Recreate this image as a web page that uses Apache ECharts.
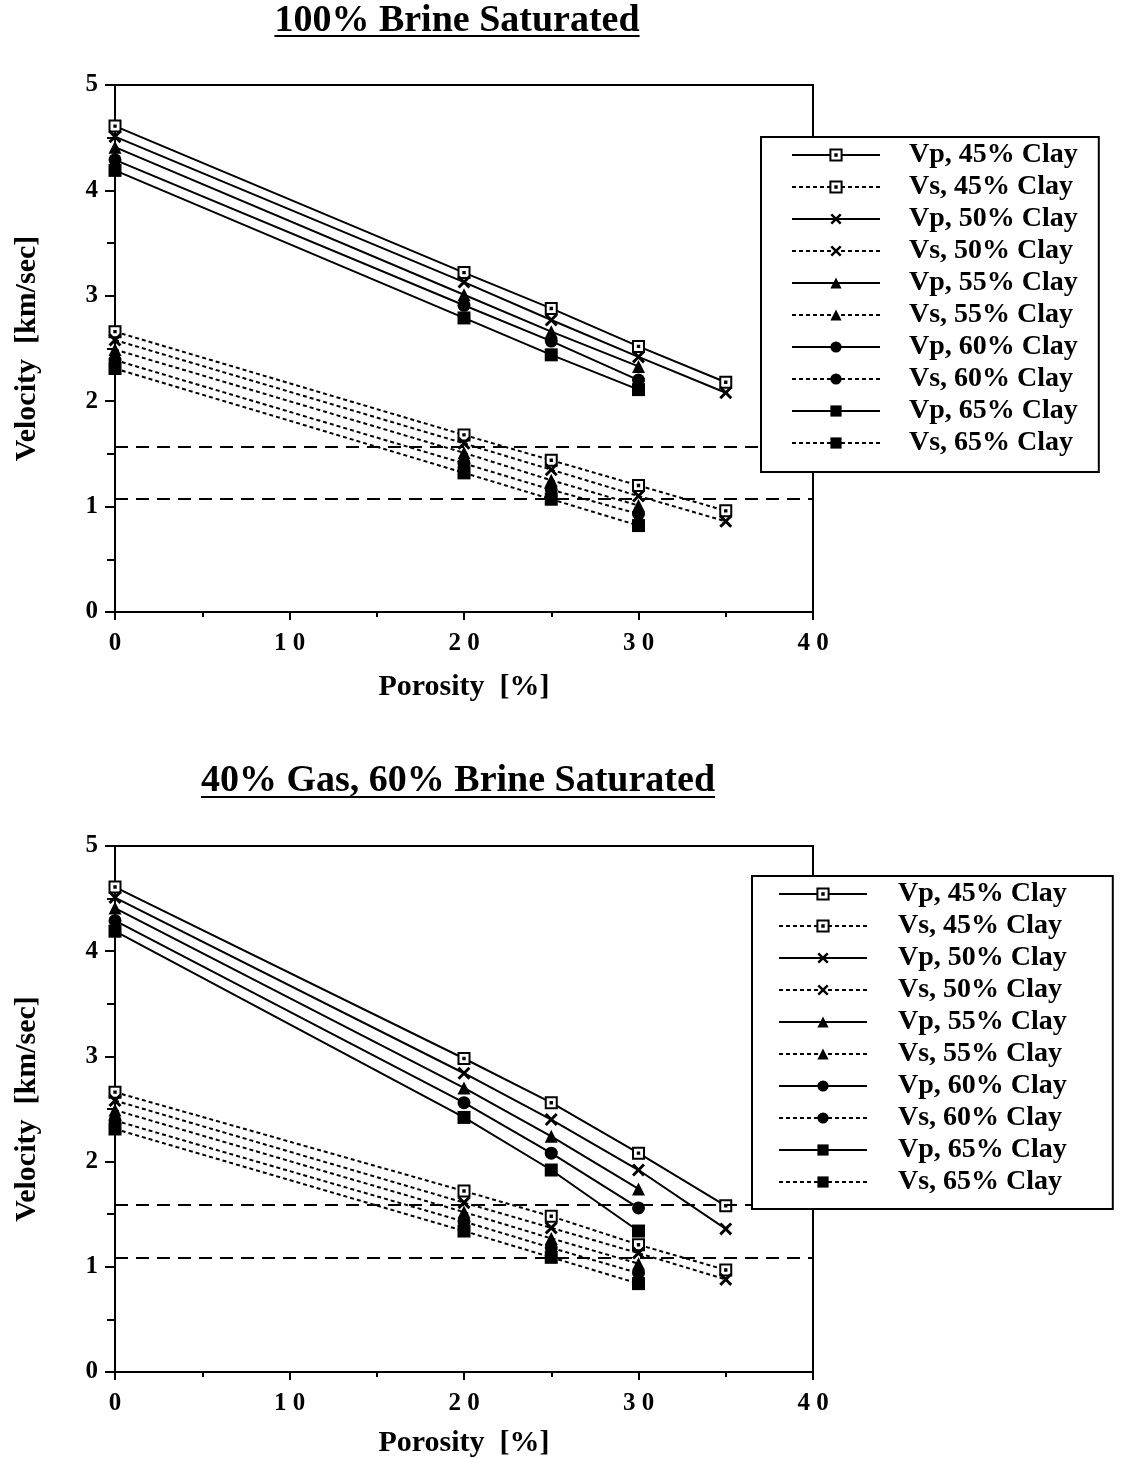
<!DOCTYPE html>
<html>
<head>
<meta charset="utf-8">
<script src="https://cdn.jsdelivr.net/npm/echarts@6/dist/echarts.min.js"></script>
<style>
html, body { margin: 0; background: #fff; }
#main { width: 1134px; height: 1458px; }
</style>
</head>
<body>
<div id="main"></div>
<script>
// porosity [%] of the five samples, clay contents
var porosity = [0, 20, 25, 30, 35];
var clays = ['45%', '50%', '55%', '60%', '65%'];

// 100% brine saturated, velocities in km/sec (one row per clay content)
var brineVp = [
    [4.61, 3.22, 2.88, 2.52, 2.18],
    [4.51, 3.13, 2.77, 2.42, 2.08],
    [4.41, 3.01, 2.66, 2.33],
    [4.29, 2.91, 2.57, 2.20],
    [4.19, 2.79, 2.44, 2.11]
];
var brineVs = [
    [2.66, 1.68, 1.44, 1.20, 0.96],
    [2.58, 1.60, 1.35, 1.10, 0.86],
    [2.49, 1.51, 1.25, 1.01],
    [2.39, 1.41, 1.16, 0.93],
    [2.31, 1.32, 1.07, 0.82]
];
var brineCutoffs = [1.57, 1.07];

// 40% gas, 60% brine saturated
var gasVp = [
    [4.61, 2.98, 2.56, 2.08, 1.58],
    [4.51, 2.84, 2.40, 1.92, 1.36],
    [4.41, 2.70, 2.24, 1.74],
    [4.29, 2.56, 2.08, 1.56],
    [4.19, 2.42, 1.92, 1.34]
];
var gasVs = [
    [2.66, 1.72, 1.48, 1.21, 0.97],
    [2.58, 1.61, 1.37, 1.13, 0.88],
    [2.49, 1.52, 1.27, 1.03],
    [2.39, 1.43, 1.18, 0.94],
    [2.31, 1.34, 1.09, 0.84]
];
var gasCutoffs = [1.59, 1.09];

var FONT = "'Liberation Serif', 'Times New Roman', serif";

// markers: dotted open square, x, triangle, circle, square
var symbols = [
    'path://M0,0H12V12H0Z M5.25,5.25H6.75V6.75H5.25Z',
    'path://M0,1.9L1.9,0L6,4.1L10.1,0L12,1.9L7.9,6L12,10.1L10.1,12L6,7.9L1.9,12L0,10.1L4.1,6Z',
    'triangle',
    'circle',
    'rect'
];
var symbolSizes = [11, 13, 13, 13, 13];

function pts(vals) {
    return vals.map(function (v, k) { return [porosity[k], v]; });
}

function oneLine(name, vals, dash, i, g) {
    var open = i === 0;
    return {
        type: 'line',
        name: name,
        xAxisIndex: g,
        yAxisIndex: g,
        data: pts(vals),
        symbol: symbols[i],
        symbolSize: symbolSizes[i],
        showSymbol: true,
        lineStyle: { color: '#000', width: 2, type: dash },
        itemStyle: open ? { color: '#fff', borderColor: '#000', borderWidth: 2 } : { color: '#000', borderWidth: 0 },
        emphasis: { disabled: true },
        silent: true,
        z: 3
    };
}

function buildSeries(g, vp, vs, cutoffs) {
    var out = [];
    for (var i = 0; i < clays.length; i++) {
        out.push(oneLine('Vp, ' + clays[i] + ' Clay', vp[i], 'solid', i, g));
        out.push(oneLine('Vs, ' + clays[i] + ' Clay', vs[i], [4, 3], i, g));
    }
    out[0].markLine = {
        symbol: 'none',
        silent: true,
        label: { show: false },
        lineStyle: { color: '#000', width: 2, type: [13, 8] },
        data: cutoffs.map(function (c) { return { yAxis: c }; })
    };
    return out;
}

var legendNames = [];
clays.forEach(function (c) {
    legendNames.push('Vp, ' + c + ' Clay');
    legendNames.push('Vs, ' + c + ' Clay');
});

function xAxisFor(g, gap) {
    return {
        type: 'value', gridIndex: g, min: 0, max: 40, interval: 10,
        name: 'Porosity  [%]', nameLocation: 'middle', nameGap: gap,
        nameTextStyle: { fontFamily: FONT, fontWeight: 'bold', fontSize: 30, color: '#000' },
        axisLine: { lineStyle: { color: '#000', width: 2 } },
        axisTick: { length: 8, lineStyle: { color: '#000', width: 2 } },
        minorTick: { show: true, splitNumber: 2, length: 5, lineStyle: { color: '#000', width: 2 } },
        splitLine: { show: false },
        axisLabel: {
            margin: 19, fontFamily: FONT, fontWeight: 'bold', fontSize: 25, color: '#000',
            formatter: function (v) { return String(v).split('').join(' '); }
        }
    };
}

function yAxisFor(g) {
    return {
        type: 'value', gridIndex: g, min: 0, max: 5, interval: 1,
        name: 'Velocity  [km/sec]', nameLocation: 'middle', nameGap: 73,
        nameTextStyle: { fontFamily: FONT, fontWeight: 'bold', fontSize: 30, color: '#000' },
        axisLine: { lineStyle: { color: '#000', width: 2 } },
        axisTick: { length: 10, lineStyle: { color: '#000', width: 2 } },
        minorTick: { show: true, splitNumber: 2, length: 8, lineStyle: { color: '#000', width: 2 } },
        splitLine: { show: false },
        axisLabel: { margin: 17, fontFamily: FONT, fontWeight: 'bold', fontSize: 25, color: '#000' }
    };
}

function legendFor(left, top, pad, textShift) {
    return {
        left: left, top: top, orient: 'vertical',
        data: legendNames,
        itemWidth: 88, itemHeight: 14, itemGap: 4,
        padding: pad,
        backgroundColor: '#fff', borderColor: '#000', borderWidth: 2,
        selectedMode: false,
        textStyle: {
            fontFamily: FONT, fontWeight: 'bold', fontSize: 28, lineHeight: 27, color: '#000',
            padding: [0, 0, 0, textShift]
        },
        z: 10
    };
}

// titles are underlined, so they are drawn as graphic text plus a rule
var titleFont = "bold 38px 'Liberation Serif'";
var measure = document.createElement('canvas').getContext('2d');
measure.font = titleFont;
function titleParts(text, cx, cy, lineY) {
    var w = measure.measureText(text).width;
    return [
        { type: 'text', x: cx, y: cy, style: { text: text, font: titleFont, fill: '#000', align: 'center', verticalAlign: 'middle' } },
        { type: 'line', shape: { x1: cx - w / 2, y1: lineY, x2: cx + w / 2, y2: lineY }, style: { stroke: '#000', lineWidth: 2 } }
    ];
}

var chart = echarts.init(document.getElementById('main'), null, { renderer: 'canvas' });
chart.setOption({
    animation: false,
    backgroundColor: '#fff',
    grid: [
        { left: 115, top: 85, width: 698, height: 527, show: true, borderColor: '#000', borderWidth: 2, backgroundColor: 'transparent', outerBoundsMode: 'none' },
        { left: 115, top: 846, width: 698, height: 526, show: true, borderColor: '#000', borderWidth: 2, backgroundColor: 'transparent', outerBoundsMode: 'none' }
    ],
    xAxis: [xAxisFor(0, 60), xAxisFor(1, 56)],
    yAxis: [yAxisFor(0), yAxisFor(1)],
    legend: [
        legendFor(761, 137, [4, 21, 15, 30], 24),
        legendFor(752, 876, [4, 46, 13, 26], 26)
    ],
    graphic: titleParts('100% Brine Saturated', 457, 21, 36)
        .concat(titleParts('40% Gas, 60% Brine Saturated', 458, 781, 797)),
    series: buildSeries(0, brineVp, brineVs, brineCutoffs)
        .concat(buildSeries(1, gasVp, gasVs, gasCutoffs))
});
</script>
</body>
</html>
